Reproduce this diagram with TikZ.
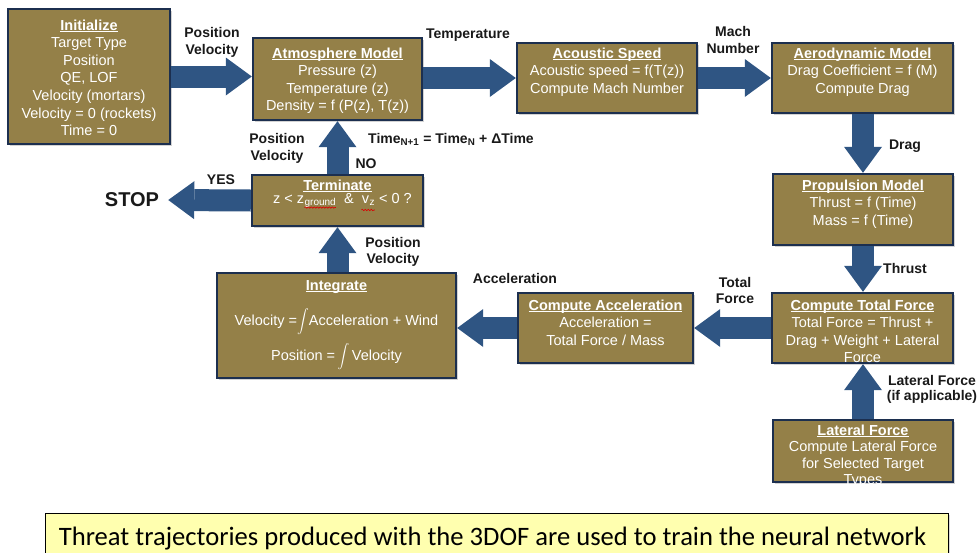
\documentclass[tikz,border=0pt]{standalone}
\usepackage{amsmath}
\usepackage{fontspec}
\usepackage{graphicx}
\setmainfont{Liberation Sans}
\newfontfamily\notefont{Carlito}
\usetikzlibrary{arrows.meta,shadows,decorations.pathmorphing}

\definecolor{boxfill}{HTML}{948048}
\definecolor{boxline}{HTML}{1C2F4F}
\definecolor{flow}{HTML}{2F5583}
\definecolor{notefill}{HTML}{FFFFAF}

% bold block title with an underline just below the baseline
\newsavebox\ttlbox
\newcommand\ttl[1]{\sbox\ttlbox{\textbf{#1}}\rlap{\usebox\ttlbox}\rule[-2pt]{\wd\ttlbox}{1.1pt}}
% tall integral sign
\newcommand\bigint{\scalebox{0.82}{$\displaystyle\int$}}

% multi-line texts are placed by the baseline of their last line
\begin{document}
\begin{tikzpicture}[x=1pt,y=-1pt,
  blk/.style={draw=boxline, line width=2.4pt, fill=boxfill, inner sep=0pt,
    drop shadow={shadow xshift=1.8pt, shadow yshift=-1.8pt, opacity=0.35}},
  blktext/.style={text=white, align=center, inner sep=0pt, anchor=base,
    font=\fontsize{14.5}{17.6}\selectfont},
  subtext/.style={text=white, inner sep=0pt, anchor=base west,
    font=\fontsize{10}{12}\selectfont},
  lbl/.style={align=center, inner sep=0pt, anchor=base,
    font=\bfseries\fontsize{14}{17}\selectfont, text=black!90},
  flowarrow/.style={draw=flow, line width=22pt,
    -{Triangle[width=38pt 0 0, length=26pt 0 0, line width=0pt]}},
  squiggle/.style={draw=red!85!black, line width=0.6pt, decorate,
    decoration={snake, amplitude=0.7pt, segment length=3pt}},
]
\useasboundingbox (0,0) rectangle (980,552);

% ---------- process blocks ----------
\node[blk, minimum width=162, minimum height=135] (init)  at (89,76.5) {};
\node[blk, minimum width=169, minimum height=82]  (atm)   at (337.5,79) {};
\node[blk, minimum width=180, minimum height=70]  (acou)  at (607,78) {};
\node[blk, minimum width=181, minimum height=70]  (aero)  at (862.5,78) {};
\node[blk, minimum width=171, minimum height=51]  (term)  at (337.5,200.5) {};
\node[blk, minimum width=180, minimum height=71]  (prop)  at (863,209.5) {};
\node[blk, minimum width=239, minimum height=105] (integ) at (336.5,325.5) {};
\node[blk, minimum width=175, minimum height=70]  (acc)   at (605.5,328) {};
\node[blk, minimum width=181, minimum height=70]  (total) at (862.5,328) {};
\node[blk, minimum width=180, minimum height=62]  (lat)   at (863,451) {};

% ---------- block texts ----------
\node[blktext] (initT) at (89,135.6) {\ttl{Initialize}\\Target Type\\Position\\QE, LOF\\Velocity (mortars)\\Velocity = 0 (rockets)\\Time = 0};
\node[blktext] (atmT) at (337.5,110.8) {\ttl{Atmosphere Model}\\Pressure (z)\\Temperature (z)\\Density = f (P(z), T(z))};
\node[blktext] (acouT) at (607,93.2) {\ttl{Acoustic Speed}\\Acoustic speed = f(T(z))\\Compute Mach Number};
\node[blktext] (aeroT) at (862.5,93.2) {\ttl{Aerodynamic Model}\\Drag Coefficient = f (M)\\Compute Drag};
\node[blktext] (propT) at (863,225.2) {\ttl{Propulsion Model}\\Thrust = f (Time)\\Mass = f (Time)};
\node[blktext] (accT) at (605.5,345.2) {\ttl{Compute Acceleration}\\Acceleration =\\Total Force / Mass};
\node[blktext] (totalT) at (862.5,362.8) {\ttl{Compute Total Force}\\Total Force = Thrust +\\Drag + Weight + Lateral\\Force};
\node[blktext, font=\fontsize{14.5}{16.5}\selectfont] (latT) at (863,484.5) {\ttl{Lateral Force}\\Compute Lateral Force\\for Selected Target\\Types};

% Integrate block: title and two integral lines
\node[blktext] (integT) at (336.5,290) {\ttl{Integrate}};
\node[blktext] (integV) at (336.5,325) {Velocity =\bigint Acceleration + Wind};
\node[blktext] (integP) at (336.5,360) {Position =\,\bigint\,Velocity};

% Terminate block: title and test condition
\node[blktext] (termT) at (337.5,190) {\ttl{Terminate}};
\node[blktext, anchor=base west] (f1) at (273,203) {z < z};
\node[subtext] (f2) at ([yshift=-2.5pt]f1.base east) {ground};
\node[blktext, anchor=base west] (f3) at ([yshift=2.5pt]f2.base east) {\ \ \&\ \ v};
\node[subtext] (f4) at ([yshift=-2.5pt]f3.base east) {z};
\node[blktext, anchor=base west] (f5) at ([yshift=2.5pt]f4.base east) {\ < 0 ?};
\draw[squiggle] ([yshift=-2pt]f2.base west) -- ([yshift=-2pt]f2.base east);
\draw[squiggle] ([xshift=-8pt,yshift=-4.5pt]f4.base west) -- ([yshift=-4.5pt]f4.base east);

% ---------- stop marker ----------
\node[inner ysep=0pt, inner xsep=9pt, font=\bfseries\fontsize{20}{24}\selectfont, text=black!90] (stop) at (132,200) {STOP};

% ---------- flow arrows ----------
\draw[flowarrow] (init.east) -- (init.east -| atm.west);
\draw[flowarrow] (atm.east |- acou.west) -- (acou.west);
\draw[flowarrow] (acou.east) -- (aero.west);
\draw[flowarrow] (prop.north |- aero.south) -- (prop.north);
\draw[flowarrow] (prop.south) -- (prop.south |- total.north);
\draw[flowarrow] (lat.north) -- (lat.north |- total.south);
\draw[flowarrow] (total.west) -- (acc.east);
\draw[flowarrow] (acc.west) -- (acc.west -| integ.east);
\draw[flowarrow] (term.south |- integ.north) -- (term.south);
\draw[flowarrow] (term.north) -- (atm.south);
\draw[flowarrow] (term.west) -- (stop.east);

% ---------- arrow labels ----------
\node[lbl] (lPV1) at (212,54) {Position\\Velocity};
\node[lbl] (lTemp) at (468,38) {Temperature};
\node[lbl] (lMach) at (733,53) {Mach\\Number};
\node[lbl] (lDrag) at (905,149) {Drag};
\node[lbl] (lThrust) at (905,273) {Thrust};
\node[lbl, font=\bfseries\fontsize{14}{15.5}\selectfont] (lLat) at (932,400.5) {Lateral Force\\(if applicable)};
\node[lbl, font=\bfseries\fontsize{14}{16}\selectfont] (lTot) at (735,303) {Total\\Force};
\node[lbl] (lAcc) at (515,283) {Acceleration};
\node[lbl, font=\bfseries\fontsize{14}{16}\selectfont] (lPV2) at (393,263) {Position\\Velocity};
\node[lbl] (lPV3) at (277,160) {Position\\Velocity};
\node[lbl] (lNo) at (366,168) {NO};
\node[lbl] (lYes) at (221,184) {YES};
\node[lbl, anchor=base west] (lTime) at (368,143) {Time\textsubscript{N+1} = Time\textsubscript{N} + ΔTime};

% ---------- note banner ----------
\node[draw=black, line width=0.8pt, fill=notefill, inner sep=0pt,
  minimum width=903, minimum height=70, anchor=north west,
  drop shadow={shadow xshift=2pt, shadow yshift=-2pt, opacity=0.3}] (note) at (45,513) {};
\node[inner sep=0pt, anchor=base, font=\notefont\fontsize{26.6}{30}\selectfont] (noteT) at (492.5,545)
  {Threat trajectories produced with the 3DOF are used to train the neural network};
\end{tikzpicture}
\end{document}
